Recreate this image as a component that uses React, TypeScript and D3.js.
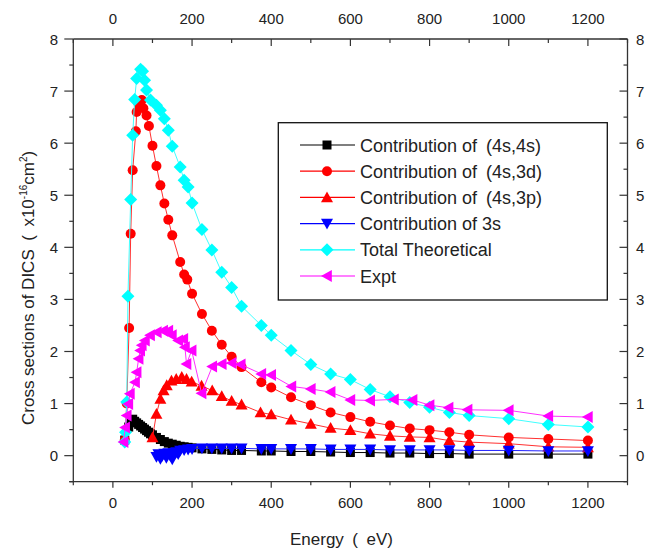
import React from "react";
import * as d3 from "d3";

const xTicks = [0, 200, 400, 600, 800, 1000, 1200];
const yTicks = [0, 1, 2, 3, 4, 5, 6, 7, 8];

const s44E = [30, 40, 45, 50, 55, 60, 65, 70, 75, 80, 85, 90, 95, 100, 110, 120, 130, 140, 150, 160, 170, 180, 190, 200, 225, 250, 275, 300, 325, 375, 400, 450, 500, 550, 600, 650, 700, 750, 800, 850, 900, 1000, 1100, 1200];
const s44V = [0.3, 0.55, 0.68, 0.7, 0.66, 0.63, 0.6, 0.57, 0.54, 0.51, 0.48, 0.45, 0.42, 0.4, 0.35, 0.31, 0.27, 0.24, 0.22, 0.2, 0.18, 0.17, 0.16, 0.15, 0.13, 0.12, 0.11, 0.1, 0.1, 0.09, 0.09, 0.08, 0.08, 0.07, 0.06, 0.06, 0.05, 0.05, 0.04, 0.04, 0.03, 0.03, 0.03, 0.03];

const s3dE = [30, 35, 41, 45, 50, 58, 60, 65, 73, 77, 85, 91, 100, 110, 120, 130, 140, 150, 170, 180, 188, 200, 225, 250, 275, 300, 325, 375, 400, 450, 500, 550, 600, 650, 700, 750, 800, 850, 900, 1000, 1100, 1200];
const s3dV = [0.3, 1.0, 2.45, 4.26, 5.48, 6.23, 6.6, 6.75, 6.83, 6.67, 6.53, 6.33, 5.95, 5.56, 5.19, 4.84, 4.53, 4.23, 3.72, 3.48, 3.38, 3.11, 2.72, 2.4, 2.13, 1.9, 1.7, 1.41, 1.31, 1.12, 0.97, 0.83, 0.74, 0.65, 0.58, 0.52, 0.49, 0.45, 0.4, 0.35, 0.32, 0.29];

const s3pE = [100, 110, 120, 128, 136, 148, 160, 174, 186, 199, 224, 251, 275, 300, 325, 373, 400, 450, 500, 550, 600, 650, 700, 750, 800, 850, 900, 1000, 1100, 1200];
const s3pV = [0.35, 0.8, 1.09, 1.25, 1.35, 1.44, 1.47, 1.51, 1.47, 1.42, 1.34, 1.25, 1.14, 1.05, 0.98, 0.83, 0.79, 0.69, 0.61, 0.53, 0.49, 0.42, 0.38, 0.36, 0.35, 0.29, 0.26, 0.23, 0.17, 0.16];

const s3sE = [110, 115, 120, 125, 130, 135, 140, 145, 150, 155, 160, 165, 170, 180, 190, 200, 225, 250, 275, 300, 325, 375, 400, 450, 500, 550, 600, 650, 700, 750, 800, 850, 900, 1000, 1100, 1200];
const s3sV = [-0.02, 0.03, -0.06, 0.0, 0.04, -0.04, 0.05, 0.0, -0.07, 0.05, 0.07, 0.03, 0.1, 0.11, 0.12, 0.13, 0.14, 0.14, 0.14, 0.14, 0.14, 0.13, 0.13, 0.13, 0.13, 0.12, 0.12, 0.12, 0.11, 0.11, 0.11, 0.11, 0.1, 0.1, 0.09, 0.09];

const totE = [30, 32, 35, 38, 45, 50, 55, 60, 70, 75, 80, 85, 95, 110, 120, 130, 140, 150, 170, 180, 190, 200, 225, 250, 275, 300, 325, 375, 400, 450, 500, 550, 600, 650, 700, 750, 800, 850, 900, 1000, 1100, 1200];
const totV = [0.26, 0.45, 1.03, 3.06, 4.92, 6.15, 6.84, 7.24, 7.42, 7.38, 7.21, 7.02, 6.83, 6.73, 6.63, 6.47, 6.25, 5.94, 5.54, 5.29, 5.16, 4.85, 4.34, 3.95, 3.52, 3.23, 2.87, 2.5, 2.31, 2.02, 1.75, 1.57, 1.46, 1.27, 1.13, 1.02, 0.93, 0.83, 0.77, 0.71, 0.6, 0.55];

const expE = [27, 31, 35, 39, 43, 56, 60, 65, 69, 73, 81, 94, 111, 127, 140, 149, 165, 178, 182, 186, 199, 224, 251, 275, 300, 323, 375, 400, 451, 500, 550, 600, 650, 710, 757, 800, 848, 896, 1000, 1100, 1200];
const expV = [0.26, 0.54, 0.77, 0.99, 1.19, 1.41, 1.6, 1.86, 2.02, 2.12, 2.21, 2.31, 2.37, 2.4, 2.4, 2.31, 2.21, 2.24, 2.08, 1.76, 2.02, 1.2, 1.71, 1.76, 1.78, 1.75, 1.57, 1.55, 1.33, 1.28, 1.22, 1.07, 1.06, 1.08, 1.07, 0.97, 0.92, 0.88, 0.87, 0.76, 0.74];

const seriesNames = ["Contribution of\u2002(4s,4s)", "Contribution of\u2002(4s,3d)", "Contribution of\u2002(4s,3p)", "Contribution of 3s", "Total Theoretical", "Expt"];
const seriesColors = ["#000000", "#ff0000", "#ff0000", "#0000ff", "#00ffff", "#ff00ff"];
const lineColors = ["#000000", "#ff3030", "#ff3030", "#2020ff", "#40ffff", "#ff30ff"];
const seriesMarkers = ["square", "circle", "triUp", "triDown", "diamond", "triLeft"];

const FONT = "'Liberation Sans', Arial, sans-serif";

function markerPath(kind: string): string {
  switch (kind) {
    case "square": { const s = 4.5; return `M${-s},${-s}H${s}V${s}H${-s}Z`; }
    case "circle": { const r = 5; return `M${r},0A${r},${r} 0 1,1 ${-r},0A${r},${r} 0 1,1 ${r},0Z`; }
    case "triUp": { const s = 6; return `M0,${-s}L${s},${s * 0.8}L${-s},${s * 0.8}Z`; }
    case "triDown": { const s = 6; return `M0,${s}L${s},${-s * 0.8}L${-s},${-s * 0.8}Z`; }
    case "diamond": { const s = 6.5; return `M0,${-s}L${s},0L0,${s}L${-s},0Z`; }
    case "triLeft": { const s = 6; return `M${-s},0L${s * 0.8},${-s}L${s * 0.8},${s}Z`; }
  }
  return "";
}

export default function App() {
  const L = 73.3, R = 627.5, T = 39, B = 481.7;
  const x = d3.scaleLinear().domain([-100, 1300]).range([L, R]);
  const y = d3.scaleLinear().domain([-0.5, 8]).range([B, T]);

  const seriesE = [s44E, s3dE, s3pE, s3sE, totE, expE];
  const seriesV = [s44V, s3dV, s3pV, s3sV, totV, expV];
  const line = d3.line<[number, number]>().x(d => x(d[0])).y(d => y(d[1]));

  const xMinor = d3.range(-100, 1301, 100);
  const yMinor = d3.range(-0.5, 8.01, 0.5);

  const legX = 278.3, legY = 122.7, legW = 329, legH = 177.3;
  const rowY = (i: number) => 145 + i * 26.2;

  return (
    <div style={{ position: "absolute", left: 0, top: 0 }}>
      <svg width={647} height={550} style={{ display: "block", background: "#fff" }} fontFamily={FONT}>
        <rect x={0} y={0} width={647} height={550} fill="#fff" />
        {seriesE.map((E, si) => {
          const pts: [number, number][] = E.map((e, i) => [e, seriesV[si][i]]);
          return (
            <g key={si}>
              <path d={line(pts) || ""} fill="none" stroke={lineColors[si]} strokeWidth={1} />
              {pts.map((p, i) => (
                <path key={i} d={markerPath(seriesMarkers[si])} transform={`translate(${x(p[0])},${y(p[1])})`} fill={seriesColors[si]} />
              ))}
            </g>
          );
        })}
        <g stroke="#333" strokeWidth={1.3} fill="none">
          <line x1={L} x2={R} y1={T} y2={T} />
          <line x1={L - 4} x2={R} y1={B} y2={B} />
          <line x1={L} x2={L} y1={T} y2={B} />
          <line x1={R} x2={R} y1={T} y2={B} />
        </g>
        <g stroke="#333" strokeWidth={1.2}>
          {xMinor.map((v, i) => {
            const major = xTicks.includes(v);
            return (
              <g key={i}>
                <line x1={x(v)} x2={x(v)} y1={B} y2={B + (major ? 6 : 3.5)} />
                <line x1={x(v)} x2={x(v)} y1={T} y2={T + (major ? 7 : 4)} />
              </g>
            );
          })}
          {yMinor.map((v, i) => {
            const major = Math.abs(v - Math.round(v)) < 1e-6;
            return (
              <g key={i}>
                <line x1={L} x2={L - (major ? 9 : 4)} y1={y(v)} y2={y(v)} />
                <line x1={R} x2={R - (major ? 8 : 4)} y1={y(v)} y2={y(v)} />
              </g>
            );
          })}
        </g>
        <g fontSize={15} fill="#222">
          {xTicks.map(v => (
            <text key={"b" + v} x={x(v)} y={508} textAnchor="middle">{v}</text>
          ))}
          {xTicks.map(v => (
            <text key={"t" + v} x={x(v)} y={24} textAnchor="middle">{v}</text>
          ))}
          {yTicks.map(v => (
            <text key={"l" + v} x={58} y={y(v) + 5.5} textAnchor="end">{v}</text>
          ))}
          {yTicks.map(v => (
            <text key={"r" + v} x={636} y={y(v) + 5.5} textAnchor="start">{v}</text>
          ))}
        </g>
        <text x={290} y={545} textAnchor="start" fontSize={17} fill="#222">{"Energy\u2002(\u2002eV)"}</text>
        <text transform={`translate(34,425) rotate(-90)`} textAnchor="start" fontSize={17} fill="#222">
          {"Cross sections of DICS\u2002(\u2002x10"}<tspan dy={-7} fontSize={10}>-16</tspan><tspan dy={7}>cm</tspan><tspan dy={-7} fontSize={10}>2</tspan><tspan dy={7}>)</tspan>
        </text>
        <rect x={legX} y={legY} width={legW} height={legH} fill="#fff" stroke="#111" strokeWidth={1.3} />
        {seriesNames.map((n, i) => (
          <g key={n}>
            <line x1={300} x2={355} y1={rowY(i)} y2={rowY(i)} stroke={seriesColors[i]} strokeWidth={1.2} />
            <path d={markerPath(seriesMarkers[i])} transform={`translate(327,${rowY(i)})`} fill={seriesColors[i]} />
            <text x={360} y={rowY(i) + 6.5} fontSize={18} fill="#222">{n}</text>
          </g>
        ))}
      </svg>
    </div>
  );
}
